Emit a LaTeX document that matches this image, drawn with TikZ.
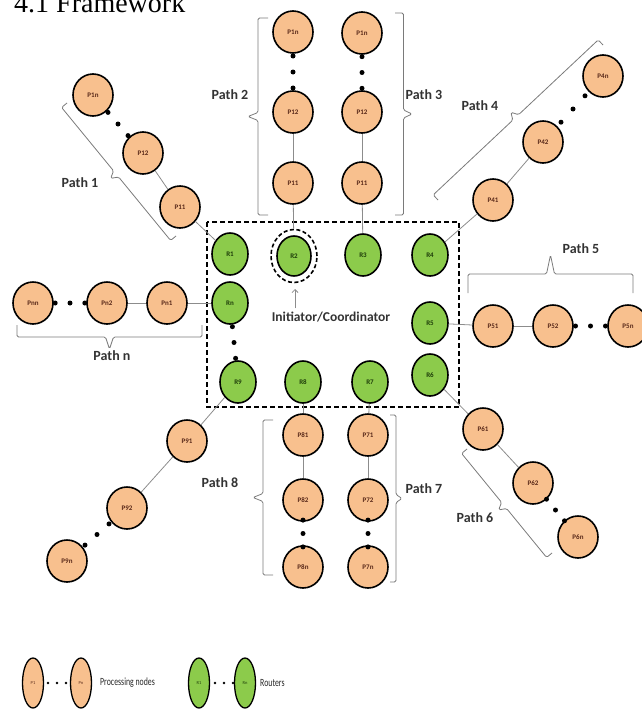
\documentclass[tikz,border=0pt]{standalone}
\usepackage{fontspec}
\setmainfont{Liberation Serif}
\newfontfamily\lblfont{Carlito}
\usetikzlibrary{shapes.geometric,arrows.meta,calc}
\definecolor{porange}{HTML}{F8C08E}
\definecolor{rgreen}{HTML}{8CCB4B}
\definecolor{pbrown}{HTML}{5A2A1A}
\definecolor{rdark}{HTML}{1E3D0A}
\definecolor{linkgray}{HTML}{8C8C8C}
\definecolor{bracegray}{HTML}{7A7A7A}
\newcommand\chaindots[3]{%
  \foreach \f/\k in {0.3/a,0.5/b,0.7/c}{\node[dotnode] (#3\k) at ($(#1)!\f!(#2)$) {};}}
% straight-segment brace: from #1 to #2, tip of height #3 on the left side
\newcommand\sbrace[3]{%
  \coordinate (sbA) at (#1);
  \coordinate (sbB) at (#2);
  \coordinate (sbM) at ($(sbA)!0.5!(sbB)$);
  \coordinate (sbT) at ($(sbM)!#3!90:(sbB)$);
  \coordinate (sbAf) at ($(sbA)!#3!90:(sbB)$);
  \coordinate (sbBf) at ($(sbB)!#3!-90:(sbA)$);
  \coordinate (sbA1) at ($(sbA)!0.5!(sbAf)$);
  \coordinate (sbB1) at ($(sbB)!0.5!(sbBf)$);
  \coordinate (sbM1) at ($(sbM)!0.5!(sbT)$);
  \draw[bracestyle] (sbA) -- (sbA1) -- ($(sbM1)!4pt!(sbA1)$) -- (sbT) -- ($(sbM1)!4pt!(sbB1)$) -- (sbB1) -- (sbB);
}
\begin{document}
\begin{tikzpicture}[x=1pt,y=-1pt,
  pnode/.style={ellipse, draw=black, line width=1.6pt, fill=porange,
    minimum width=40pt, minimum height=42pt, inner sep=0pt,
    font=\lblfont\bfseries\fontsize{7}{8}\selectfont, text=pbrown},
  rnode/.style={ellipse, draw=black, line width=1.6pt, fill=rgreen,
    minimum width=36pt, minimum height=42pt, inner sep=0pt,
    font=\lblfont\bfseries\fontsize{7}{8}\selectfont, text=rdark},
  link/.style={draw=linkgray, line width=0.8pt},
  dotnode/.style={circle, fill=black, inner sep=0pt, minimum size=5pt},
  smalldot/.style={circle, fill=black, inner sep=0pt, minimum size=2.6pt},
  bracestyle/.style={draw=bracegray, line width=0.8pt, rounded corners=1.5pt},
  pathlabel/.style={font=\lblfont\bfseries\fontsize{14}{16}\selectfont, text=black!80},
  legp/.style={ellipse, draw=black, line width=1.3pt, fill=porange,
    minimum width=21pt, minimum height=50pt, inner sep=0pt,
    font=\lblfont\fontsize{4.5}{5}\selectfont, text=pbrown},
  legr/.style={ellipse, draw=black, line width=1.3pt, fill=rgreen,
    minimum width=21pt, minimum height=50pt, inner sep=0pt,
    font=\lblfont\fontsize{4.5}{5}\selectfont, text=rdark},
  legtext/.style={anchor=west, inner sep=0pt, font=\lblfont\fontsize{11}{12}\selectfont, text=black!85}
]
\useasboundingbox (0,0) rectangle (641,709);

% title (clipped at the top, as in the original)
\node[anchor=base west, inner sep=0pt, font=\fontsize{28}{30}\selectfont] (title) at (14,13) {4.1 Framework};

% router box
\draw[line width=1.5pt, dash pattern=on 5pt off 3pt] (207,222) rectangle (459,407);

% routers
\node[rnode] (R1) at (230,254) {R1};
\node[rnode, minimum width=34pt, minimum height=40pt] (R2) at (294,256) {R2};
\node[rnode] (R3) at (363,255) {R3};
\node[rnode] (R4) at (430,255) {R4};
\node[rnode] (Rn) at (230,303) {Rn};
\node[rnode] (R5) at (430,323) {R5};
\node[rnode] (R6) at (430,375) {R6};
\node[rnode] (R7) at (370,382) {R7};
\node[rnode] (R8) at (303,382) {R8};
\node[rnode] (R9) at (238,382) {R9};
\node[ellipse, draw=black, line width=1.6pt, dash pattern=on 4pt off 2.5pt,
  minimum width=46pt, minimum height=53pt, inner sep=0pt] (R2ring) at (294,256) {};

% initiator label
\node[font=\lblfont\bfseries\fontsize{13.5}{15}\selectfont, text=black!80] (init) at (331,317) {Initiator/Coordinator};
\coordinate (arrtip) at (295,289);
\draw[draw=linkgray, line width=0.8pt, -{Straight Barb[length=3pt]}] (init.north -| arrtip) -- (arrtip);

% Path 1
\node[pnode] (P11a) at (180,207) {P11};
\node[pnode] (P12a) at (143,153) {P12};
\node[pnode] (P1na) at (93,95) {P1n};
\draw[link] (R1) -- (P11a);
\draw[link] (P11a) -- (P12a);
\chaindots{P12a}{P1na}{dA}

% Path 2
\node[pnode] (P21) at (293,183) {P11};
\node[pnode] (P22) at (293,112) {P12};
\node[pnode] (P2n) at (293,32) {P1n};
\draw[link] (R2ring) -- (P21);
\draw[link] (P21) -- (P22);
\chaindots{P22}{P2n}{dB}

% Path 3
\node[pnode] (P31) at (362,183) {P11};
\node[pnode] (P32) at (362,112) {P12};
\node[pnode] (P3n) at (362,33) {P1n};
\draw[link] (R3) -- (P31);
\draw[link] (P31) -- (P32);
\chaindots{P32}{P3n}{dC}

% Path 4
\node[pnode] (P41) at (493,200) {P41};
\node[pnode] (P42) at (543,142) {P42};
\node[pnode] (P4n) at (603,76) {P4n};
\draw[link] (R4) -- (P41);
\draw[link] (P41) -- (P42);
\chaindots{P42}{P4n}{dD}

% Path n
\node[pnode] (Pn1) at (167,303) {Pn1};
\node[pnode] (Pn2) at (107,303) {Pn2};
\node[pnode] (Pnn) at (33,303) {Pnn};
\draw[link] (Rn) -- (Pn1);
\draw[link] (Pn1) -- (Pn2);
\chaindots{Pn2}{Pnn}{dE}
\chaindots{Rn}{R9}{dF}

% Path 5
\node[pnode] (P51) at (493,326) {P51};
\node[pnode] (P52) at (553,326) {P52};
\node[pnode] (P5n) at (628,326) {P5n};
\draw[link] (R5) -- (P51);
\draw[link] (P51) -- (P52);
\chaindots{P52}{P5n}{dG}

% Path 6
\node[pnode] (P61) at (483,429) {P61};
\node[pnode] (P62) at (533,483) {P62};
\node[pnode] (P6n) at (578,537) {P6n};
\draw[link] (R6) -- (P61);
\draw[link] (P61) -- (P62);
\chaindots{P62}{P6n}{dH}

% Path 7
\node[pnode] (P71) at (368,435) {P71};
\node[pnode] (P72) at (368,500) {P72};
\node[pnode] (P7n) at (368,567) {P7n};
\draw[link] (R7) -- (P71);
\draw[link] (P71) -- (P72);
\chaindots{P72}{P7n}{dI}

% Path 8
\node[pnode] (P81) at (303,435) {P81};
\node[pnode] (P82) at (303,500) {P82};
\node[pnode] (P8n) at (303,567) {P8n};
\draw[link] (R8) -- (P81);
\draw[link] (P81) -- (P82);
\chaindots{P82}{P8n}{dJ}

% Path 9
\node[pnode] (P91) at (187,441) {P91};
\node[pnode] (P92) at (127,508) {P92};
\node[pnode] (P9n) at (67,561) {P9n};
\draw[link] (R9) -- (P91);
\draw[link] (P91) -- (P92);
\chaindots{P92}{P9n}{dK}

% braces
\sbrace{176,236}{67,103}{14pt}
\sbrace{268,215}{268,18}{20pt}
\sbrace{395,13}{395,215}{17pt}
\sbrace{438,200}{603,45}{14pt}
\sbrace{468,293}{633,293}{38pt}
\sbrace{202,325}{17,325}{24pt}
\sbrace{552,553}{467,449}{14pt}
\sbrace{390,415}{390,582}{12pt}
\sbrace{273,575}{273,420}{20pt}

% path labels
\node[pathlabel] (L1) at (80,183) {Path 1};
\node[pathlabel] (L2) at (230,95) {Path 2};
\node[pathlabel] (L3) at (424,95) {Path 3};
\node[pathlabel] (L4) at (480,106) {Path 4};
\node[pathlabel] (L5) at (581,249) {Path 5};
\node[pathlabel] (Ln) at (112,356) {Path n};
\node[pathlabel] (L6) at (475,518) {Path 6};
\node[pathlabel] (L7) at (424,489) {Path 7};
\node[pathlabel] (L8) at (220,483) {Path 8};

% legend
\node[legp] (lp1) at (33,683) {P1};
\node[legp] (lpn) at (81,683) {Pn};
\node[smalldot] (ld1) at (48,683) {};
\node[smalldot] (ld2) at (57,683) {};
\node[smalldot] (ld3) at (66,683) {};
\node[legtext] (ltp) at (100,683) {\scalebox{0.71}[1]{Processing nodes}};
\node[legr] (lr1) at (199,683) {R1};
\node[legr] (lrn) at (245,683) {Rn};
\node[smalldot] (ld4) at (215,683) {};
\node[smalldot] (ld5) at (224,683) {};
\node[smalldot] (ld6) at (233,683) {};
\node[legtext] (ltr) at (260,683) {\scalebox{0.71}[1]{Routers}};
\end{tikzpicture}
\end{document}
